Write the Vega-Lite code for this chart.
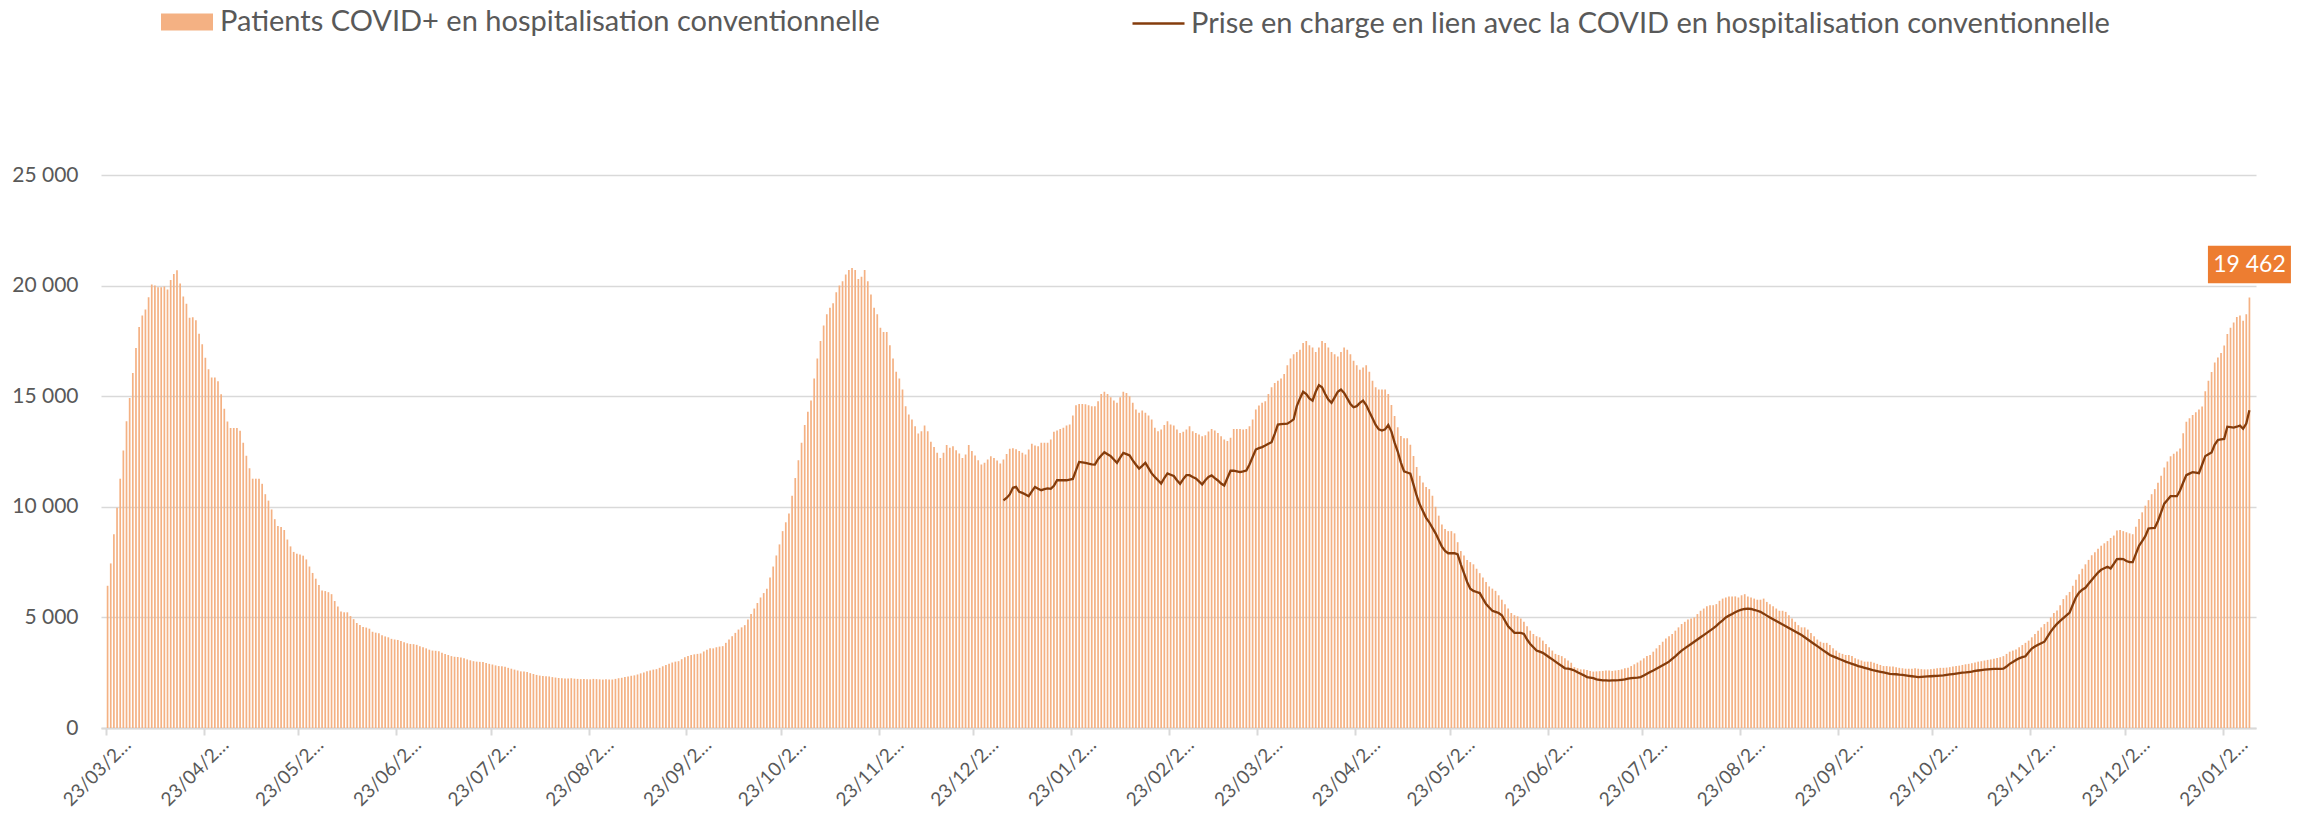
{
"$schema": "https://vega.github.io/schema/vega-lite/v6.json",
"width": 2155, "height": 553,
"autosize": {"type": "none"},
"padding": {"left": 101, "top": 175, "right": 54, "bottom": 89},
"background": "white",
"config": {
  "locale": {"number": {"decimal": ",", "thousands": " ", "grouping": [3], "currency": ["", " €"]}},
  "view": {"stroke": null},
  "font": "Lato"
},
"data": {"values": [
{"d":"2020-03-23","p":6430},{"d":"2020-03-24","p":7440},{"d":"2020-03-25","p":8760},{"d":"2020-03-26","p":9960},{"d":"2020-03-27","p":11270},{"d":"2020-03-28","p":12540},{"d":"2020-03-29","p":13870},{"d":"2020-03-30","p":14920},{"d":"2020-03-31","p":16050},
{"d":"2020-04-01","p":17180},{"d":"2020-04-02","p":18130},{"d":"2020-04-03","p":18650},{"d":"2020-04-04","p":18920},{"d":"2020-04-05","p":19470},{"d":"2020-04-06","p":20050},{"d":"2020-04-07","p":20010},{"d":"2020-04-08","p":19920},{"d":"2020-04-09","p":19920},{"d":"2020-04-10","p":19960},
{"d":"2020-04-11","p":19820},{"d":"2020-04-12","p":20250},{"d":"2020-04-13","p":20530},{"d":"2020-04-14","p":20690},{"d":"2020-04-15","p":20100},{"d":"2020-04-16","p":19510},{"d":"2020-04-17","p":19180},{"d":"2020-04-18","p":18550},{"d":"2020-04-19","p":18570},{"d":"2020-04-20","p":18430},
{"d":"2020-04-21","p":17820},{"d":"2020-04-22","p":17350},{"d":"2020-04-23","p":16740},{"d":"2020-04-24","p":16220},{"d":"2020-04-25","p":15840},{"d":"2020-04-26","p":15840},{"d":"2020-04-27","p":15680},{"d":"2020-04-28","p":15090},{"d":"2020-04-29","p":14430},{"d":"2020-04-30","p":13860},
{"d":"2020-05-01","p":13560},{"d":"2020-05-02","p":13560},{"d":"2020-05-03","p":13560},{"d":"2020-05-04","p":13440},{"d":"2020-05-05","p":12900},{"d":"2020-05-06","p":12310},{"d":"2020-05-07","p":11740},{"d":"2020-05-08","p":11270},{"d":"2020-05-09","p":11270},{"d":"2020-05-10","p":11270},
{"d":"2020-05-11","p":11040},{"d":"2020-05-12","p":10570},{"d":"2020-05-13","p":10280},{"d":"2020-05-14","p":9880},{"d":"2020-05-15","p":9440},{"d":"2020-05-16","p":9130},{"d":"2020-05-17","p":9090},{"d":"2020-05-18","p":8950},{"d":"2020-05-19","p":8520},{"d":"2020-05-20","p":8210},
{"d":"2020-05-21","p":7960},{"d":"2020-05-22","p":7880},{"d":"2020-05-23","p":7840},{"d":"2020-05-24","p":7790},{"d":"2020-05-25","p":7620},{"d":"2020-05-26","p":7300},{"d":"2020-05-27","p":7010},{"d":"2020-05-28","p":6750},{"d":"2020-05-29","p":6470},{"d":"2020-05-30","p":6220},{"d":"2020-05-31","p":6190},
{"d":"2020-06-01","p":6140},{"d":"2020-06-02","p":6050},{"d":"2020-06-03","p":5740},{"d":"2020-06-04","p":5490},{"d":"2020-06-05","p":5270},{"d":"2020-06-06","p":5230},{"d":"2020-06-07","p":5230},{"d":"2020-06-08","p":5060},{"d":"2020-06-09","p":4920},{"d":"2020-06-10","p":4750},
{"d":"2020-06-11","p":4660},{"d":"2020-06-12","p":4570},{"d":"2020-06-13","p":4540},{"d":"2020-06-14","p":4490},{"d":"2020-06-15","p":4350},{"d":"2020-06-16","p":4310},{"d":"2020-06-17","p":4280},{"d":"2020-06-18","p":4190},{"d":"2020-06-19","p":4140},{"d":"2020-06-20","p":4100},
{"d":"2020-06-21","p":4030},{"d":"2020-06-22","p":4000},{"d":"2020-06-23","p":3980},{"d":"2020-06-24","p":3930},{"d":"2020-06-25","p":3880},{"d":"2020-06-26","p":3830},{"d":"2020-06-27","p":3800},{"d":"2020-06-28","p":3790},{"d":"2020-06-29","p":3760},{"d":"2020-06-30","p":3700},
{"d":"2020-07-01","p":3650},{"d":"2020-07-02","p":3600},{"d":"2020-07-03","p":3540},{"d":"2020-07-04","p":3500},{"d":"2020-07-05","p":3490},{"d":"2020-07-06","p":3470},{"d":"2020-07-07","p":3400},{"d":"2020-07-08","p":3350},{"d":"2020-07-09","p":3300},{"d":"2020-07-10","p":3250},
{"d":"2020-07-11","p":3220},{"d":"2020-07-12","p":3210},{"d":"2020-07-13","p":3190},{"d":"2020-07-14","p":3150},{"d":"2020-07-15","p":3100},{"d":"2020-07-16","p":3060},{"d":"2020-07-17","p":3020},{"d":"2020-07-18","p":3000},{"d":"2020-07-19","p":2990},{"d":"2020-07-20","p":2980},
{"d":"2020-07-21","p":2940},{"d":"2020-07-22","p":2900},{"d":"2020-07-23","p":2870},{"d":"2020-07-24","p":2830},{"d":"2020-07-25","p":2800},{"d":"2020-07-26","p":2790},{"d":"2020-07-27","p":2770},{"d":"2020-07-28","p":2720},{"d":"2020-07-29","p":2680},{"d":"2020-07-30","p":2640},{"d":"2020-07-31","p":2600},
{"d":"2020-08-01","p":2560},{"d":"2020-08-02","p":2550},{"d":"2020-08-03","p":2530},{"d":"2020-08-04","p":2480},{"d":"2020-08-05","p":2440},{"d":"2020-08-06","p":2400},{"d":"2020-08-07","p":2370},{"d":"2020-08-08","p":2350},{"d":"2020-08-09","p":2340},{"d":"2020-08-10","p":2330},
{"d":"2020-08-11","p":2300},{"d":"2020-08-12","p":2280},{"d":"2020-08-13","p":2260},{"d":"2020-08-14","p":2250},{"d":"2020-08-15","p":2240},{"d":"2020-08-16","p":2240},{"d":"2020-08-17","p":2250},{"d":"2020-08-18","p":2230},{"d":"2020-08-19","p":2220},{"d":"2020-08-20","p":2210},
{"d":"2020-08-21","p":2210},{"d":"2020-08-22","p":2200},{"d":"2020-08-23","p":2200},{"d":"2020-08-24","p":2220},{"d":"2020-08-25","p":2210},{"d":"2020-08-26","p":2200},{"d":"2020-08-27","p":2190},{"d":"2020-08-28","p":2200},{"d":"2020-08-29","p":2190},{"d":"2020-08-30","p":2190},{"d":"2020-08-31","p":2220},
{"d":"2020-09-01","p":2250},{"d":"2020-09-02","p":2270},{"d":"2020-09-03","p":2300},{"d":"2020-09-04","p":2330},{"d":"2020-09-05","p":2360},{"d":"2020-09-06","p":2380},{"d":"2020-09-07","p":2420},{"d":"2020-09-08","p":2470},{"d":"2020-09-09","p":2510},{"d":"2020-09-10","p":2560},
{"d":"2020-09-11","p":2600},{"d":"2020-09-12","p":2640},{"d":"2020-09-13","p":2660},{"d":"2020-09-14","p":2720},{"d":"2020-09-15","p":2790},{"d":"2020-09-16","p":2850},{"d":"2020-09-17","p":2910},{"d":"2020-09-18","p":2960},{"d":"2020-09-19","p":3000},{"d":"2020-09-20","p":3020},
{"d":"2020-09-21","p":3110},{"d":"2020-09-22","p":3200},{"d":"2020-09-23","p":3260},{"d":"2020-09-24","p":3300},{"d":"2020-09-25","p":3330},{"d":"2020-09-26","p":3350},{"d":"2020-09-27","p":3370},{"d":"2020-09-28","p":3460},{"d":"2020-09-29","p":3540},{"d":"2020-09-30","p":3600},
{"d":"2020-10-01","p":3600},{"d":"2020-10-02","p":3650},{"d":"2020-10-03","p":3680},{"d":"2020-10-04","p":3700},{"d":"2020-10-05","p":3850},{"d":"2020-10-06","p":4000},{"d":"2020-10-07","p":4150},{"d":"2020-10-08","p":4300},{"d":"2020-10-09","p":4450},{"d":"2020-10-10","p":4550},
{"d":"2020-10-11","p":4650},{"d":"2020-10-12","p":4900},{"d":"2020-10-13","p":5150},{"d":"2020-10-14","p":5400},{"d":"2020-10-15","p":5650},{"d":"2020-10-16","p":5900},{"d":"2020-10-17","p":6100},{"d":"2020-10-18","p":6300},{"d":"2020-10-19","p":6800},{"d":"2020-10-20","p":7300},
{"d":"2020-10-21","p":7800},{"d":"2020-10-22","p":8300},{"d":"2020-10-23","p":8900},{"d":"2020-10-24","p":9300},{"d":"2020-10-25","p":9700},{"d":"2020-10-26","p":10500},{"d":"2020-10-27","p":11300},{"d":"2020-10-28","p":12100},{"d":"2020-10-29","p":12900},{"d":"2020-10-30","p":13700},{"d":"2020-10-31","p":14300},
{"d":"2020-11-01","p":14800},{"d":"2020-11-02","p":15800},{"d":"2020-11-03","p":16700},{"d":"2020-11-04","p":17500},{"d":"2020-11-05","p":18200},{"d":"2020-11-06","p":18700},{"d":"2020-11-07","p":19000},{"d":"2020-11-08","p":19200},{"d":"2020-11-09","p":19700},{"d":"2020-11-10","p":20000},
{"d":"2020-11-11","p":20200},{"d":"2020-11-12","p":20500},{"d":"2020-11-13","p":20700},{"d":"2020-11-14","p":20800},{"d":"2020-11-15","p":20700},{"d":"2020-11-16","p":20300},{"d":"2020-11-17","p":20400},{"d":"2020-11-18","p":20700},{"d":"2020-11-19","p":20200},{"d":"2020-11-20","p":19600},
{"d":"2020-11-21","p":19000},{"d":"2020-11-22","p":18700},{"d":"2020-11-23","p":18100},{"d":"2020-11-24","p":17900},{"d":"2020-11-25","p":17900},{"d":"2020-11-26","p":17300},{"d":"2020-11-27","p":16700},{"d":"2020-11-28","p":16100},{"d":"2020-11-29","p":15800},{"d":"2020-11-30","p":15300},
{"d":"2020-12-01","p":14550},{"d":"2020-12-02","p":14170},{"d":"2020-12-03","p":13950},{"d":"2020-12-04","p":13640},{"d":"2020-12-05","p":13310},{"d":"2020-12-06","p":13420},{"d":"2020-12-07","p":13670},{"d":"2020-12-08","p":13420},{"d":"2020-12-09","p":12940},{"d":"2020-12-10","p":12700},
{"d":"2020-12-11","p":12440},{"d":"2020-12-12","p":12210},{"d":"2020-12-13","p":12440},{"d":"2020-12-14","p":12790},{"d":"2020-12-15","p":12670},{"d":"2020-12-16","p":12740},{"d":"2020-12-17","p":12560},{"d":"2020-12-18","p":12410},{"d":"2020-12-19","p":12210},{"d":"2020-12-20","p":12360},
{"d":"2020-12-21","p":12790},{"d":"2020-12-22","p":12520},{"d":"2020-12-23","p":12320},{"d":"2020-12-24","p":12110},{"d":"2020-12-25","p":11910},{"d":"2020-12-26","p":11990},{"d":"2020-12-27","p":12140},{"d":"2020-12-28","p":12290},{"d":"2020-12-29","p":12210},{"d":"2020-12-30","p":12090},{"d":"2020-12-31","p":11960},
{"d":"2021-01-01","p":12140,"l":10290},{"d":"2021-01-02","p":12390,"l":10400},{"d":"2021-01-03","p":12620,"l":10560},{"d":"2021-01-04","p":12650,"l":10860},{"d":"2021-01-05","p":12600,"l":10900},{"d":"2021-01-06","p":12520,"l":10680},{"d":"2021-01-07","p":12440,"l":10630},{"d":"2021-01-08","p":12360,"l":10560},{"d":"2021-01-09","p":12590,"l":10480},{"d":"2021-01-10","p":12850,"l":10700},
{"d":"2021-01-11","p":12770,"l":10900},{"d":"2021-01-12","p":12740,"l":10820},{"d":"2021-01-13","p":12890,"l":10750},{"d":"2021-01-14","p":12890,"l":10800},{"d":"2021-01-15","p":12890,"l":10830},{"d":"2021-01-16","p":13040,"l":10810},{"d":"2021-01-17","p":13390,"l":10950},{"d":"2021-01-18","p":13450,"l":11200},{"d":"2021-01-19","p":13520,"l":11200},{"d":"2021-01-20","p":13570,"l":11200},
{"d":"2021-01-21","p":13670,"l":11200},{"d":"2021-01-22","p":13720,"l":11230},{"d":"2021-01-23","p":14130,"l":11260},{"d":"2021-01-24","p":14590,"l":11650},{"d":"2021-01-25","p":14650,"l":12030},{"d":"2021-01-26","p":14650,"l":12010},{"d":"2021-01-27","p":14640,"l":11990},{"d":"2021-01-28","p":14590,"l":11950},{"d":"2021-01-29","p":14550,"l":11920},{"d":"2021-01-30","p":14550,"l":11910},{"d":"2021-01-31","p":14770,"l":12150},
{"d":"2021-02-01","p":15100,"l":12320},{"d":"2021-02-02","p":15200,"l":12470},{"d":"2021-02-03","p":15100,"l":12380},{"d":"2021-02-04","p":14950,"l":12290},{"d":"2021-02-05","p":14800,"l":12140},{"d":"2021-02-06","p":14700,"l":11990},{"d":"2021-02-07","p":14950,"l":12220},{"d":"2021-02-08","p":15200,"l":12440},{"d":"2021-02-09","p":15150,"l":12380},{"d":"2021-02-10","p":15000,"l":12320},
{"d":"2021-02-11","p":14700,"l":12100},{"d":"2021-02-12","p":14400,"l":11900},{"d":"2021-02-13","p":14250,"l":11730},{"d":"2021-02-14","p":14350,"l":11850},{"d":"2021-02-15","p":14250,"l":11990},{"d":"2021-02-16","p":14130,"l":11750},{"d":"2021-02-17","p":13950,"l":11510},{"d":"2021-02-18","p":13570,"l":11350},{"d":"2021-02-19","p":13420,"l":11200},{"d":"2021-02-20","p":13490,"l":11050},
{"d":"2021-02-21","p":13700,"l":11300},{"d":"2021-02-22","p":13870,"l":11510},{"d":"2021-02-23","p":13720,"l":11450},{"d":"2021-02-24","p":13670,"l":11390},{"d":"2021-02-25","p":13490,"l":11200},{"d":"2021-02-26","p":13340,"l":11040},{"d":"2021-02-27","p":13390,"l":11250},{"d":"2021-02-28","p":13490,"l":11430},
{"d":"2021-03-01","p":13640,"l":11430},{"d":"2021-03-02","p":13420,"l":11350},{"d":"2021-03-03","p":13340,"l":11280},{"d":"2021-03-04","p":13270,"l":11150},{"d":"2021-03-05","p":13190,"l":11010},{"d":"2021-03-06","p":13230,"l":11200},{"d":"2021-03-07","p":13400,"l":11350},{"d":"2021-03-08","p":13520,"l":11420},{"d":"2021-03-09","p":13450,"l":11300},{"d":"2021-03-10","p":13340,"l":11190},
{"d":"2021-03-11","p":13190,"l":11050},{"d":"2021-03-12","p":13040,"l":10960},{"d":"2021-03-13","p":12970,"l":11300},{"d":"2021-03-14","p":13120,"l":11630},{"d":"2021-03-15","p":13520,"l":11630},{"d":"2021-03-16","p":13520,"l":11600},{"d":"2021-03-17","p":13520,"l":11570},{"d":"2021-03-18","p":13490,"l":11600},{"d":"2021-03-19","p":13520,"l":11640},{"d":"2021-03-20","p":13640,"l":11910},
{"d":"2021-03-21","p":13950,"l":12250},{"d":"2021-03-22","p":14400,"l":12590},{"d":"2021-03-23","p":14580,"l":12650},{"d":"2021-03-24","p":14700,"l":12700},{"d":"2021-03-25","p":14770,"l":12770},{"d":"2021-03-26","p":15100,"l":12850},{"d":"2021-03-27","p":15400,"l":12920},{"d":"2021-03-28","p":15600,"l":13300},{"d":"2021-03-29","p":15700,"l":13720},{"d":"2021-03-30","p":15800,"l":13740},{"d":"2021-03-31","p":16000,"l":13750},
{"d":"2021-04-01","p":16400,"l":13760},{"d":"2021-04-02","p":16700,"l":13850},{"d":"2021-04-03","p":16900,"l":13950},{"d":"2021-04-04","p":17000,"l":14550},{"d":"2021-04-05","p":17100,"l":14900},{"d":"2021-04-06","p":17400,"l":15200},{"d":"2021-04-07","p":17500,"l":15100},{"d":"2021-04-08","p":17300,"l":14900},{"d":"2021-04-09","p":17200,"l":14800},{"d":"2021-04-10","p":17000,"l":15200},
{"d":"2021-04-11","p":17200,"l":15500},{"d":"2021-04-12","p":17500,"l":15400},{"d":"2021-04-13","p":17400,"l":15100},{"d":"2021-04-14","p":17200,"l":14850},{"d":"2021-04-15","p":17000,"l":14700},{"d":"2021-04-16","p":16900,"l":14950},{"d":"2021-04-17","p":16800,"l":15200},{"d":"2021-04-18","p":17000,"l":15300},{"d":"2021-04-19","p":17200,"l":15150},{"d":"2021-04-20","p":17100,"l":14900},
{"d":"2021-04-21","p":16900,"l":14650},{"d":"2021-04-22","p":16600,"l":14500},{"d":"2021-04-23","p":16400,"l":14550},{"d":"2021-04-24","p":16200,"l":14700},{"d":"2021-04-25","p":16300,"l":14800},{"d":"2021-04-26","p":16400,"l":14600},{"d":"2021-04-27","p":16100,"l":14300},{"d":"2021-04-28","p":15700,"l":14000},{"d":"2021-04-29","p":15400,"l":13700},{"d":"2021-04-30","p":15300,"l":13500},
{"d":"2021-05-01","p":15300,"l":13450},{"d":"2021-05-02","p":15300,"l":13500},{"d":"2021-05-03","p":15100,"l":13700},{"d":"2021-05-04","p":14600,"l":13400},{"d":"2021-05-05","p":14100,"l":12900},{"d":"2021-05-06","p":13600,"l":12500},{"d":"2021-05-07","p":13200,"l":12000},{"d":"2021-05-08","p":13100,"l":11600},{"d":"2021-05-09","p":13100,"l":11550},{"d":"2021-05-10","p":12800,"l":11500},
{"d":"2021-05-11","p":12300,"l":11000},{"d":"2021-05-12","p":11800,"l":10500},{"d":"2021-05-13","p":11400,"l":10100},{"d":"2021-05-14","p":11100,"l":9800},{"d":"2021-05-15","p":10900,"l":9500},{"d":"2021-05-16","p":10800,"l":9300},{"d":"2021-05-17","p":10500,"l":9050},{"d":"2021-05-18","p":10000,"l":8800},{"d":"2021-05-19","p":9600,"l":8500},{"d":"2021-05-20","p":9200,"l":8200},
{"d":"2021-05-21","p":9000,"l":8000},{"d":"2021-05-22","p":8900,"l":7900},{"d":"2021-05-23","p":8900,"l":7900},{"d":"2021-05-24","p":8800,"l":7900},{"d":"2021-05-25","p":8400,"l":7850},{"d":"2021-05-26","p":8000,"l":7400},{"d":"2021-05-27","p":7800,"l":7000},{"d":"2021-05-28","p":7600,"l":6600},{"d":"2021-05-29","p":7500,"l":6300},{"d":"2021-05-30","p":7400,"l":6200},{"d":"2021-05-31","p":7200,"l":6150},
{"d":"2021-06-01","p":7000,"l":6100},{"d":"2021-06-02","p":6800,"l":5850},{"d":"2021-06-03","p":6600,"l":5600},{"d":"2021-06-04","p":6400,"l":5450},{"d":"2021-06-05","p":6300,"l":5300},{"d":"2021-06-06","p":6200,"l":5250},{"d":"2021-06-07","p":6000,"l":5200},{"d":"2021-06-08","p":5800,"l":5100},{"d":"2021-06-09","p":5600,"l":4850},{"d":"2021-06-10","p":5400,"l":4600},
{"d":"2021-06-11","p":5200,"l":4450},{"d":"2021-06-12","p":5100,"l":4300},{"d":"2021-06-13","p":5050,"l":4300},{"d":"2021-06-14","p":4950,"l":4300},{"d":"2021-06-15","p":4800,"l":4250},{"d":"2021-06-16","p":4600,"l":4000},{"d":"2021-06-17","p":4400,"l":3800},{"d":"2021-06-18","p":4250,"l":3650},{"d":"2021-06-19","p":4150,"l":3500},{"d":"2021-06-20","p":4100,"l":3450},
{"d":"2021-06-21","p":3950,"l":3400},{"d":"2021-06-22","p":3800,"l":3300},{"d":"2021-06-23","p":3650,"l":3200},{"d":"2021-06-24","p":3500,"l":3100},{"d":"2021-06-25","p":3350,"l":3000},{"d":"2021-06-26","p":3300,"l":2900},{"d":"2021-06-27","p":3250,"l":2800},{"d":"2021-06-28","p":3150,"l":2700},{"d":"2021-06-29","p":3050,"l":2680},{"d":"2021-06-30","p":2950,"l":2650},
{"d":"2021-07-01","p":2750,"l":2600},{"d":"2021-07-02","p":2700,"l":2520},{"d":"2021-07-03","p":2650,"l":2450},{"d":"2021-07-04","p":2650,"l":2380},{"d":"2021-07-05","p":2620,"l":2300},{"d":"2021-07-06","p":2580,"l":2280},{"d":"2021-07-07","p":2550,"l":2250},{"d":"2021-07-08","p":2560,"l":2200},{"d":"2021-07-09","p":2570,"l":2180},{"d":"2021-07-10","p":2580,"l":2150},
{"d":"2021-07-11","p":2600,"l":2150},{"d":"2021-07-12","p":2600,"l":2140},{"d":"2021-07-13","p":2580,"l":2150},{"d":"2021-07-14","p":2600,"l":2150},{"d":"2021-07-15","p":2620,"l":2160},{"d":"2021-07-16","p":2650,"l":2180},{"d":"2021-07-17","p":2700,"l":2200},{"d":"2021-07-18","p":2720,"l":2230},{"d":"2021-07-19","p":2800,"l":2250},{"d":"2021-07-20","p":2880,"l":2270},
{"d":"2021-07-21","p":2960,"l":2280},{"d":"2021-07-22","p":3050,"l":2300},{"d":"2021-07-23","p":3150,"l":2370},{"d":"2021-07-24","p":3250,"l":2450},{"d":"2021-07-25","p":3300,"l":2530},{"d":"2021-07-26","p":3450,"l":2600},{"d":"2021-07-27","p":3600,"l":2680},{"d":"2021-07-28","p":3750,"l":2760},{"d":"2021-07-29","p":3900,"l":2840},{"d":"2021-07-30","p":4050,"l":2920},{"d":"2021-07-31","p":4150,"l":3000},
{"d":"2021-08-01","p":4250,"l":3120},{"d":"2021-08-02","p":4400,"l":3240},{"d":"2021-08-03","p":4550,"l":3370},{"d":"2021-08-04","p":4700,"l":3500},{"d":"2021-08-05","p":4800,"l":3600},{"d":"2021-08-06","p":4900,"l":3700},{"d":"2021-08-07","p":4950,"l":3800},{"d":"2021-08-08","p":5000,"l":3900},{"d":"2021-08-09","p":5150,"l":4000},{"d":"2021-08-10","p":5300,"l":4100},
{"d":"2021-08-11","p":5400,"l":4200},{"d":"2021-08-12","p":5500,"l":4300},{"d":"2021-08-13","p":5550,"l":4400},{"d":"2021-08-14","p":5550,"l":4500},{"d":"2021-08-15","p":5600,"l":4620},{"d":"2021-08-16","p":5750,"l":4750},{"d":"2021-08-17","p":5850,"l":4870},{"d":"2021-08-18","p":5900,"l":5000},{"d":"2021-08-19","p":5950,"l":5080},{"d":"2021-08-20","p":5950,"l":5150},
{"d":"2021-08-21","p":5950,"l":5230},{"d":"2021-08-22","p":5900,"l":5300},{"d":"2021-08-23","p":6000,"l":5350},{"d":"2021-08-24","p":6050,"l":5380},{"d":"2021-08-25","p":5950,"l":5400},{"d":"2021-08-26","p":5900,"l":5380},{"d":"2021-08-27","p":5850,"l":5340},{"d":"2021-08-28","p":5800,"l":5300},{"d":"2021-08-29","p":5800,"l":5250},{"d":"2021-08-30","p":5850,"l":5170},{"d":"2021-08-31","p":5700,"l":5080},
{"d":"2021-09-01","p":5600,"l":5000},{"d":"2021-09-02","p":5500,"l":4920},{"d":"2021-09-03","p":5400,"l":4840},{"d":"2021-09-04","p":5300,"l":4760},{"d":"2021-09-05","p":5300,"l":4680},{"d":"2021-09-06","p":5250,"l":4600},{"d":"2021-09-07","p":5100,"l":4520},{"d":"2021-09-08","p":4950,"l":4440},{"d":"2021-09-09","p":4800,"l":4360},{"d":"2021-09-10","p":4650,"l":4280},
{"d":"2021-09-11","p":4550,"l":4200},{"d":"2021-09-12","p":4550,"l":4100},{"d":"2021-09-13","p":4450,"l":4000},{"d":"2021-09-14","p":4300,"l":3900},{"d":"2021-09-15","p":4150,"l":3800},{"d":"2021-09-16","p":4000,"l":3700},{"d":"2021-09-17","p":3900,"l":3600},{"d":"2021-09-18","p":3850,"l":3500},{"d":"2021-09-19","p":3850,"l":3400},{"d":"2021-09-20","p":3750,"l":3300},
{"d":"2021-09-21","p":3600,"l":3240},{"d":"2021-09-22","p":3500,"l":3180},{"d":"2021-09-23","p":3400,"l":3120},{"d":"2021-09-24","p":3350,"l":3060},{"d":"2021-09-25","p":3300,"l":3000},{"d":"2021-09-26","p":3300,"l":2950},{"d":"2021-09-27","p":3250,"l":2900},{"d":"2021-09-28","p":3150,"l":2850},{"d":"2021-09-29","p":3100,"l":2800},{"d":"2021-09-30","p":3050,"l":2760},
{"d":"2021-10-01","p":3000,"l":2720},{"d":"2021-10-02","p":3000,"l":2680},{"d":"2021-10-03","p":3000,"l":2640},{"d":"2021-10-04","p":2950,"l":2600},{"d":"2021-10-05","p":2900,"l":2570},{"d":"2021-10-06","p":2850,"l":2540},{"d":"2021-10-07","p":2800,"l":2510},{"d":"2021-10-08","p":2800,"l":2480},{"d":"2021-10-09","p":2780,"l":2450},{"d":"2021-10-10","p":2780,"l":2440},
{"d":"2021-10-11","p":2750,"l":2430},{"d":"2021-10-12","p":2720,"l":2410},{"d":"2021-10-13","p":2700,"l":2400},{"d":"2021-10-14","p":2680,"l":2380},{"d":"2021-10-15","p":2680,"l":2360},{"d":"2021-10-16","p":2680,"l":2340},{"d":"2021-10-17","p":2700,"l":2320},{"d":"2021-10-18","p":2680,"l":2300},{"d":"2021-10-19","p":2660,"l":2310},{"d":"2021-10-20","p":2650,"l":2320},
{"d":"2021-10-21","p":2650,"l":2330},{"d":"2021-10-22","p":2660,"l":2340},{"d":"2021-10-23","p":2680,"l":2350},{"d":"2021-10-24","p":2700,"l":2360},{"d":"2021-10-25","p":2720,"l":2370},{"d":"2021-10-26","p":2720,"l":2380},{"d":"2021-10-27","p":2730,"l":2400},{"d":"2021-10-28","p":2750,"l":2420},{"d":"2021-10-29","p":2780,"l":2440},{"d":"2021-10-30","p":2800,"l":2460},{"d":"2021-10-31","p":2820,"l":2480},
{"d":"2021-11-01","p":2850,"l":2500},{"d":"2021-11-02","p":2880,"l":2510},{"d":"2021-11-03","p":2900,"l":2530},{"d":"2021-11-04","p":2930,"l":2550},{"d":"2021-11-05","p":2960,"l":2580},{"d":"2021-11-06","p":3000,"l":2600},{"d":"2021-11-07","p":3020,"l":2620},{"d":"2021-11-08","p":3050,"l":2640},{"d":"2021-11-09","p":3080,"l":2650},{"d":"2021-11-10","p":3100,"l":2660},
{"d":"2021-11-11","p":3130,"l":2670},{"d":"2021-11-12","p":3160,"l":2670},{"d":"2021-11-13","p":3200,"l":2670},{"d":"2021-11-14","p":3250,"l":2680},{"d":"2021-11-15","p":3350,"l":2780},{"d":"2021-11-16","p":3450,"l":2900},{"d":"2021-11-17","p":3500,"l":2980},{"d":"2021-11-18","p":3550,"l":3070},{"d":"2021-11-19","p":3650,"l":3150},{"d":"2021-11-20","p":3750,"l":3200},
{"d":"2021-11-21","p":3850,"l":3240},{"d":"2021-11-22","p":3950,"l":3420},{"d":"2021-11-23","p":4100,"l":3590},{"d":"2021-11-24","p":4250,"l":3680},{"d":"2021-11-25","p":4400,"l":3760},{"d":"2021-11-26","p":4550,"l":3830},{"d":"2021-11-27","p":4700,"l":3900},{"d":"2021-11-28","p":4800,"l":4130},{"d":"2021-11-29","p":5000,"l":4360},{"d":"2021-11-30","p":5200,"l":4540},
{"d":"2021-12-01","p":5310,"l":4710},{"d":"2021-12-02","p":5550,"l":4840},{"d":"2021-12-03","p":5830,"l":4965},{"d":"2021-12-04","p":6000,"l":5090},{"d":"2021-12-05","p":6150,"l":5220},{"d":"2021-12-06","p":6430,"l":5570},{"d":"2021-12-07","p":6700,"l":5910},{"d":"2021-12-08","p":6950,"l":6120},{"d":"2021-12-09","p":7200,"l":6250},{"d":"2021-12-10","p":7400,"l":6340},
{"d":"2021-12-11","p":7600,"l":6520},{"d":"2021-12-12","p":7810,"l":6690},{"d":"2021-12-13","p":7950,"l":6860},{"d":"2021-12-14","p":8100,"l":7030},{"d":"2021-12-15","p":8240,"l":7150},{"d":"2021-12-16","p":8350,"l":7220},{"d":"2021-12-17","p":8450,"l":7290},{"d":"2021-12-18","p":8590,"l":7210},{"d":"2021-12-19","p":8700,"l":7420},{"d":"2021-12-20","p":8930,"l":7640},
{"d":"2021-12-21","p":8950,"l":7650},{"d":"2021-12-22","p":8900,"l":7640},{"d":"2021-12-23","p":8850,"l":7550},{"d":"2021-12-24","p":8800,"l":7500},{"d":"2021-12-25","p":8760,"l":7500},{"d":"2021-12-26","p":9100,"l":7870},{"d":"2021-12-27","p":9450,"l":8240},{"d":"2021-12-28","p":9750,"l":8450},{"d":"2021-12-29","p":10050,"l":8670},{"d":"2021-12-30","p":10300,"l":9020},{"d":"2021-12-31","p":10570,"l":9040},
{"d":"2022-01-01","p":10800,"l":9050},{"d":"2022-01-02","p":11090,"l":9360},{"d":"2022-01-03","p":11400,"l":9750},{"d":"2022-01-04","p":11780,"l":10140},{"d":"2022-01-05","p":12050,"l":10310},{"d":"2022-01-06","p":12290,"l":10480},{"d":"2022-01-07","p":12400,"l":10480},{"d":"2022-01-08","p":12500,"l":10480},{"d":"2022-01-09","p":12640,"l":10740},{"d":"2022-01-10","p":13330,"l":11100},
{"d":"2022-01-11","p":13840,"l":11430},{"d":"2022-01-12","p":14000,"l":11500},{"d":"2022-01-13","p":14150,"l":11570},{"d":"2022-01-14","p":14270,"l":11550},{"d":"2022-01-15","p":14400,"l":11520},{"d":"2022-01-16","p":14530,"l":11900},{"d":"2022-01-17","p":15220,"l":12290},{"d":"2022-01-18","p":15700,"l":12380},{"d":"2022-01-19","p":16090,"l":12460},{"d":"2022-01-20","p":16520,"l":12810},
{"d":"2022-01-21","p":16750,"l":13020},{"d":"2022-01-22","p":16950,"l":13050},{"d":"2022-01-23","p":17290,"l":13070},{"d":"2022-01-24","p":17810,"l":13620},{"d":"2022-01-25","p":18100,"l":13600},{"d":"2022-01-26","p":18330,"l":13580},{"d":"2022-01-27","p":18580,"l":13620},{"d":"2022-01-28","p":18650,"l":13670},{"d":"2022-01-29","p":18410,"l":13530},{"d":"2022-01-30","p":18700,"l":13760},{"d":"2022-01-31","p":19462,"l":14360}
]},
"layer": [
{
  "mark": {"type": "bar", "width": 1.7, "xOffset": 1.585},
  "encoding": {
    "x": {"field": "d", "type": "temporal", "title": null,
      "scale": {"type": "utc", "nice": false, "domain": [{"year": 2020, "month": 3, "date": 23, "utc": true}, {"year": 2022, "month": 2, "date": 1, "utc": true}]},
      "axis": {"values": [
        {"year": 2020, "month": 3, "date": 23, "utc": true},{"year": 2020, "month": 4, "date": 23, "utc": true},{"year": 2020, "month": 5, "date": 23, "utc": true},{"year": 2020, "month": 6, "date": 23, "utc": true},{"year": 2020, "month": 7, "date": 23, "utc": true},{"year": 2020, "month": 8, "date": 23, "utc": true},{"year": 2020, "month": 9, "date": 23, "utc": true},{"year": 2020, "month": 10, "date": 23, "utc": true},{"year": 2020, "month": 11, "date": 23, "utc": true},{"year": 2020, "month": 12, "date": 23, "utc": true},
        {"year": 2021, "month": 1, "date": 23, "utc": true},{"year": 2021, "month": 2, "date": 23, "utc": true},{"year": 2021, "month": 3, "date": 23, "utc": true},{"year": 2021, "month": 4, "date": 23, "utc": true},{"year": 2021, "month": 5, "date": 23, "utc": true},{"year": 2021, "month": 6, "date": 23, "utc": true},{"year": 2021, "month": 7, "date": 23, "utc": true},{"year": 2021, "month": 8, "date": 23, "utc": true},{"year": 2021, "month": 9, "date": 23, "utc": true},{"year": 2021, "month": 10, "date": 23, "utc": true},{"year": 2021, "month": 11, "date": 23, "utc": true},{"year": 2021, "month": 12, "date": 23, "utc": true},
        {"year": 2022, "month": 1, "date": 23, "utc": true}],
        "labelExpr": "utcFormat(datum.value, '%d/%m/') + '2…'",
        "labelAngle": -45, "labelFont": "Lato", "labelFontSize": 19, "labelColor": "#595959",
        "labelPadding": 0, "labelOffset": 15, "labelOverlap": false, "labelBound": false, "labelFlush": false,
        "grid": false, "domainColor": "#D9D9D9", "domainWidth": 2, "tickColor": "#D9D9D9", "tickWidth": 2, "tickSize": 7}},
    "y": {"field": "p", "type": "quantitative", "title": null,
      "scale": {"domain": [0, 25000], "nice": false},
      "axis": {"values": [0, 5000, 10000, 15000, 20000, 25000], "format": ",d", "domain": false, "ticks": false,
        "grid": true, "gridColor": "#D9D9D9", "gridWidth": 1.5,
        "labelFont": "Lato", "labelFontSize": 21, "labelColor": "#595959", "labelPadding": 23}},
    "fill": {"datum": "Patients COVID+ en hospitalisation conventionnelle", "type": "nominal",
      "scale": {"range": ["#F4B183"]},
      "legend": {"orient": "none", "legendX": 60, "legendY": -179, "title": null, "padding": 0,
        "symbolType": "M-1,-0.327H1V0.327H-1Z", "symbolSize": 2704, "symbolStrokeWidth": 0, "symbolOpacity": 1,
        "labelFont": "Lato", "labelFontSize": 29, "labelColor": "#595959", "labelOffset": 7, "labelLimit": 1500}}
  }
},
{
  "transform": [{"filter": {"field": "l", "valid": true}}],
  "mark": {"type": "line", "strokeWidth": 2.3, "xOffset": 1.585},
  "encoding": {
    "x": {"field": "d", "type": "temporal", "title": null},
    "y": {"field": "l", "type": "quantitative", "title": null},
    "stroke": {"datum": "Prise en charge en lien avec la COVID en hospitalisation conventionnelle", "type": "nominal",
      "scale": {"range": ["#843C0C"]},
      "legend": {"orient": "none", "legendX": 1030, "legendY": -179, "title": null, "padding": 0,
        "symbolType": "stroke", "symbolSize": 2704, "symbolStrokeWidth": 2.3,
        "labelFont": "Lato", "labelFontSize": 29, "labelColor": "#595959", "labelOffset": 5, "labelLimit": 1500}}
  }
},
{
  "transform": [{"filter": "utcyear(datum.d) == 2022 && utcmonth(datum.d) == 0 && utcdate(datum.d) == 31"}],
  "mark": {"type": "point", "shape": "M-1,-0.453H1V0.453H-1Z", "size": 6889, "filled": true, "fill": "#ED7D31", "opacity": 1, "strokeWidth": 0, "xOffset": 1.585, "yOffset": -33},
  "encoding": {
    "x": {"field": "d", "type": "temporal", "title": null},
    "y": {"field": "p", "type": "quantitative", "title": null}
  }
},
{
  "transform": [{"filter": "utcyear(datum.d) == 2022 && utcmonth(datum.d) == 0 && utcdate(datum.d) == 31"}],
  "mark": {"type": "text", "color": "white", "font": "Lato", "fontSize": 23, "align": "center", "baseline": "middle", "xOffset": 1.585, "yOffset": -33},
  "encoding": {
    "x": {"field": "d", "type": "temporal", "title": null},
    "y": {"field": "p", "type": "quantitative", "title": null},
    "text": {"field": "p", "type": "quantitative", "format": ",d"}
  }
}
]
}
